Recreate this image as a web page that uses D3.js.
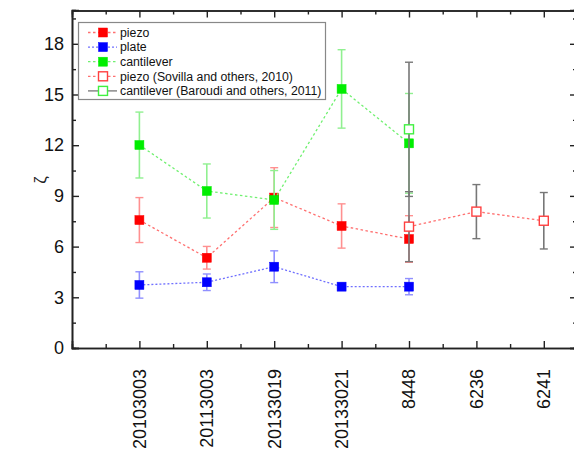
<!DOCTYPE html>
<html>
<head>
<meta charset="utf-8">
<script src="https://cdn.jsdelivr.net/npm/d3@7"></script>
<style>
body { margin: 0; background: #fff; }
svg text { font-family: "Liberation Sans", Arial, sans-serif; }
</style>
</head>
<body>
<div class="grafico"></div>
<script>
// categorias del eje x
const categorias = ["20103003", "20113003", "20133019", "20133021", "8448", "6236", "6241"];

// series (valor y error)
const piezo = [7.57, 5.34, 8.9, 7.22, 6.45];
const piezoErr = [1.33, 0.67, 1.77, 1.31, 1.38];
const plate = [3.73, 3.89, 4.81, 3.63, 3.63];
const plateErr = [0.78, 0.49, 0.94, 0.08, 0.48];
const cantilever = [12.01, 9.29, 8.76, 15.33, 12.11];
const cantileverErr = [1.95, 1.6, 1.74, 2.32, 2.95];
const sovillaCats = ["8448", "6236", "6241"];
const sovilla = [7.18, 8.07, 7.53];
const sovillaErr = [2.07, 1.6, 1.67];
const baroudiCats = ["8448"];
const baroudi = [12.94];
const baroudiErr = [3.97];
const yTicks = [0, 3, 6, 9, 12, 15, 18];

var width = 574, height = 457;

var svg = d3.select(".grafico").append("svg")
  .attr("width", width)
  .attr("height", height);

// escalas
var x = d3.scaleLinear().domain([0, 7.5]).range([72, 577.5]),
  y = d3.scaleLinear().domain([0, 20]).range([348, 10]);
var xc = c => x(categorias.indexOf(c) + 1);

var majorX = d3.range(1, 8), minorX = d3.range(0.5, 7.5, 1);
var minorY = d3.range(1.5, 20, 3);

// ejes
svg.append("g").attr("transform", "translate(0,348)")
  .call(d3.axisBottom(x).tickValues(majorX).tickSize(-7).tickFormat(""));
svg.append("g").attr("transform", "translate(0,348)")
  .call(d3.axisBottom(x).tickValues(minorX).tickSize(-4).tickFormat(""));
svg.append("g").attr("transform", "translate(0,10.5)")
  .call(d3.axisTop(x).tickValues(majorX).tickSize(-7).tickFormat(""));
svg.append("g").attr("transform", "translate(0,10.5)")
  .call(d3.axisTop(x).tickValues(minorX).tickSize(-4).tickFormat(""));
svg.append("g").attr("transform", "translate(72,0)")
  .call(d3.axisLeft(y).tickValues(minorY).tickSize(-4).tickFormat(""));
var yAxis = svg.append("g").attr("transform", "translate(72,0)")
  .call(d3.axisLeft(y).tickValues(yTicks).tickSize(-7).tickPadding(8));
svg.append("g").attr("transform", "translate(577,0)")
  .call(d3.axisRight(y).tickValues(yTicks).tickSize(-7).tickFormat(""));
svg.append("g").attr("transform", "translate(577,0)")
  .call(d3.axisRight(y).tickValues(minorY).tickSize(-4).tickFormat(""));

svg.selectAll(".domain").attr("stroke", "#222").attr("stroke-width", 1.6);
svg.selectAll(".tick line").attr("stroke", "#222").attr("stroke-width", 1.4);
yAxis.selectAll("text").attr("font-size", 18).attr("fill", "#111");

// etiquetas x rotadas
svg.selectAll("text.xlab")
  .data(categorias)
  .enter()
  .append("text")
  .attr("class", "xlab")
  .attr("transform", d => "translate(" + xc(d) + ",369) rotate(-90)")
  .attr("dy", "0.35em")
  .attr("text-anchor", "end")
  .attr("font-size", 18)
  .attr("fill", "#111")
  .text(d => d);

svg.append("text")
  .attr("transform", "translate(40,180) rotate(-90)")
  .attr("text-anchor", "middle")
  .attr("dy", "0.35em")
  .attr("font-size", 17)
  .attr("fill", "#222")
  .text("ζ");

// series
var series = [
  { cats: categorias.slice(0, 5), v: piezo, e: piezoErr, col: "#ff0000", line: "#ff7070", err: "#ff9090", fill: true, dash: "2.5,2.5" },
  { cats: categorias.slice(0, 5), v: plate, e: plateErr, col: "#0000ff", line: "#7070ff", err: "#9090ff", fill: true, dash: "2,2" },
  { cats: categorias.slice(0, 5), v: cantilever, e: cantileverErr, col: "#00ee00", line: "#70f070", err: "#90f090", fill: true, dash: "2.5,2.5" },
  { cats: sovillaCats, v: sovilla, e: sovillaErr, col: "#ff4040", line: "#ff7070", err: "#777", fill: false, dash: "2.5,2.5" },
  { cats: baroudiCats, v: baroudi, e: baroudiErr, col: "#40f040", line: "#777", err: "#777", fill: false, dash: null }
];

series.forEach(s => {
  var pts = s.cats.map((c, i) => ({ c: c, v: s.v[i], e: s.e[i] }));
  var g = svg.append("g");
  // barras de error
  pts.forEach(p => {
    g.append("line").attr("x1", xc(p.c)).attr("x2", xc(p.c))
      .attr("y1", y(p.v + p.e)).attr("y2", y(p.v - p.e))
      .attr("stroke", s.err).attr("stroke-width", 1.6);
    [p.v + p.e, p.v - p.e].forEach(t => {
      g.append("line").attr("x1", xc(p.c) - 4).attr("x2", xc(p.c) + 4)
        .attr("y1", y(t)).attr("y2", y(t))
        .attr("stroke", s.err).attr("stroke-width", 1.4);
    });
  });
  if (pts.length > 1) {
    g.append("path")
      .datum(pts)
      .attr("fill", "none")
      .attr("stroke", s.line)
      .attr("stroke-width", 1.3)
      .attr("stroke-dasharray", s.dash)
      .attr("d", d3.line().x(d => xc(d.c)).y(d => y(d.v)));
  }
  s.pts = pts;
  s.g = g;
});

series.forEach(s => {
  s.g.selectAll("rect")
    .data(s.pts)
    .enter()
    .append("rect")
    .attr("x", d => xc(d.c) - 4.5)
    .attr("y", d => y(d.v) - 4.5)
    .attr("width", 9)
    .attr("height", 9)
    .attr("fill", s.fill ? s.col : "#fff")
    .attr("stroke", s.col)
    .attr("stroke-width", s.fill ? 0.5 : 1.4);
});

// leyenda
var nombres = ["piezo", "plate", "cantilever", "piezo (Sovilla and others, 2010)", "cantilever (Baroudi and others, 2011)"];
var leg = svg.append("g");
leg.append("rect")
  .attr("x", 78.5).attr("y", 22.5).attr("width", 247).attr("height", 77)
  .attr("fill", "#fff").attr("stroke", "#888").attr("stroke-width", 1.2);
nombres.forEach((n, i) => {
  var s = series[i], ly = 32.5 + i * 14.6;
  leg.append("line").attr("x1", 88).attr("x2", 117).attr("y1", ly).attr("y2", ly)
    .attr("stroke", s.line).attr("stroke-width", 1.3)
    .attr("stroke-dasharray", s.dash);
  leg.append("rect").attr("x", 98.5).attr("y", ly - 4.5).attr("width", 9).attr("height", 9)
    .attr("fill", s.fill ? s.col : "#fff").attr("stroke", s.col)
    .attr("stroke-width", s.fill ? 0.5 : 1.4);
  leg.append("text").attr("x", 120).attr("y", ly).attr("dy", "0.35em")
    .attr("font-size", 12.3).attr("fill", "#111").text(n);
});
</script>
</body>
</html>
